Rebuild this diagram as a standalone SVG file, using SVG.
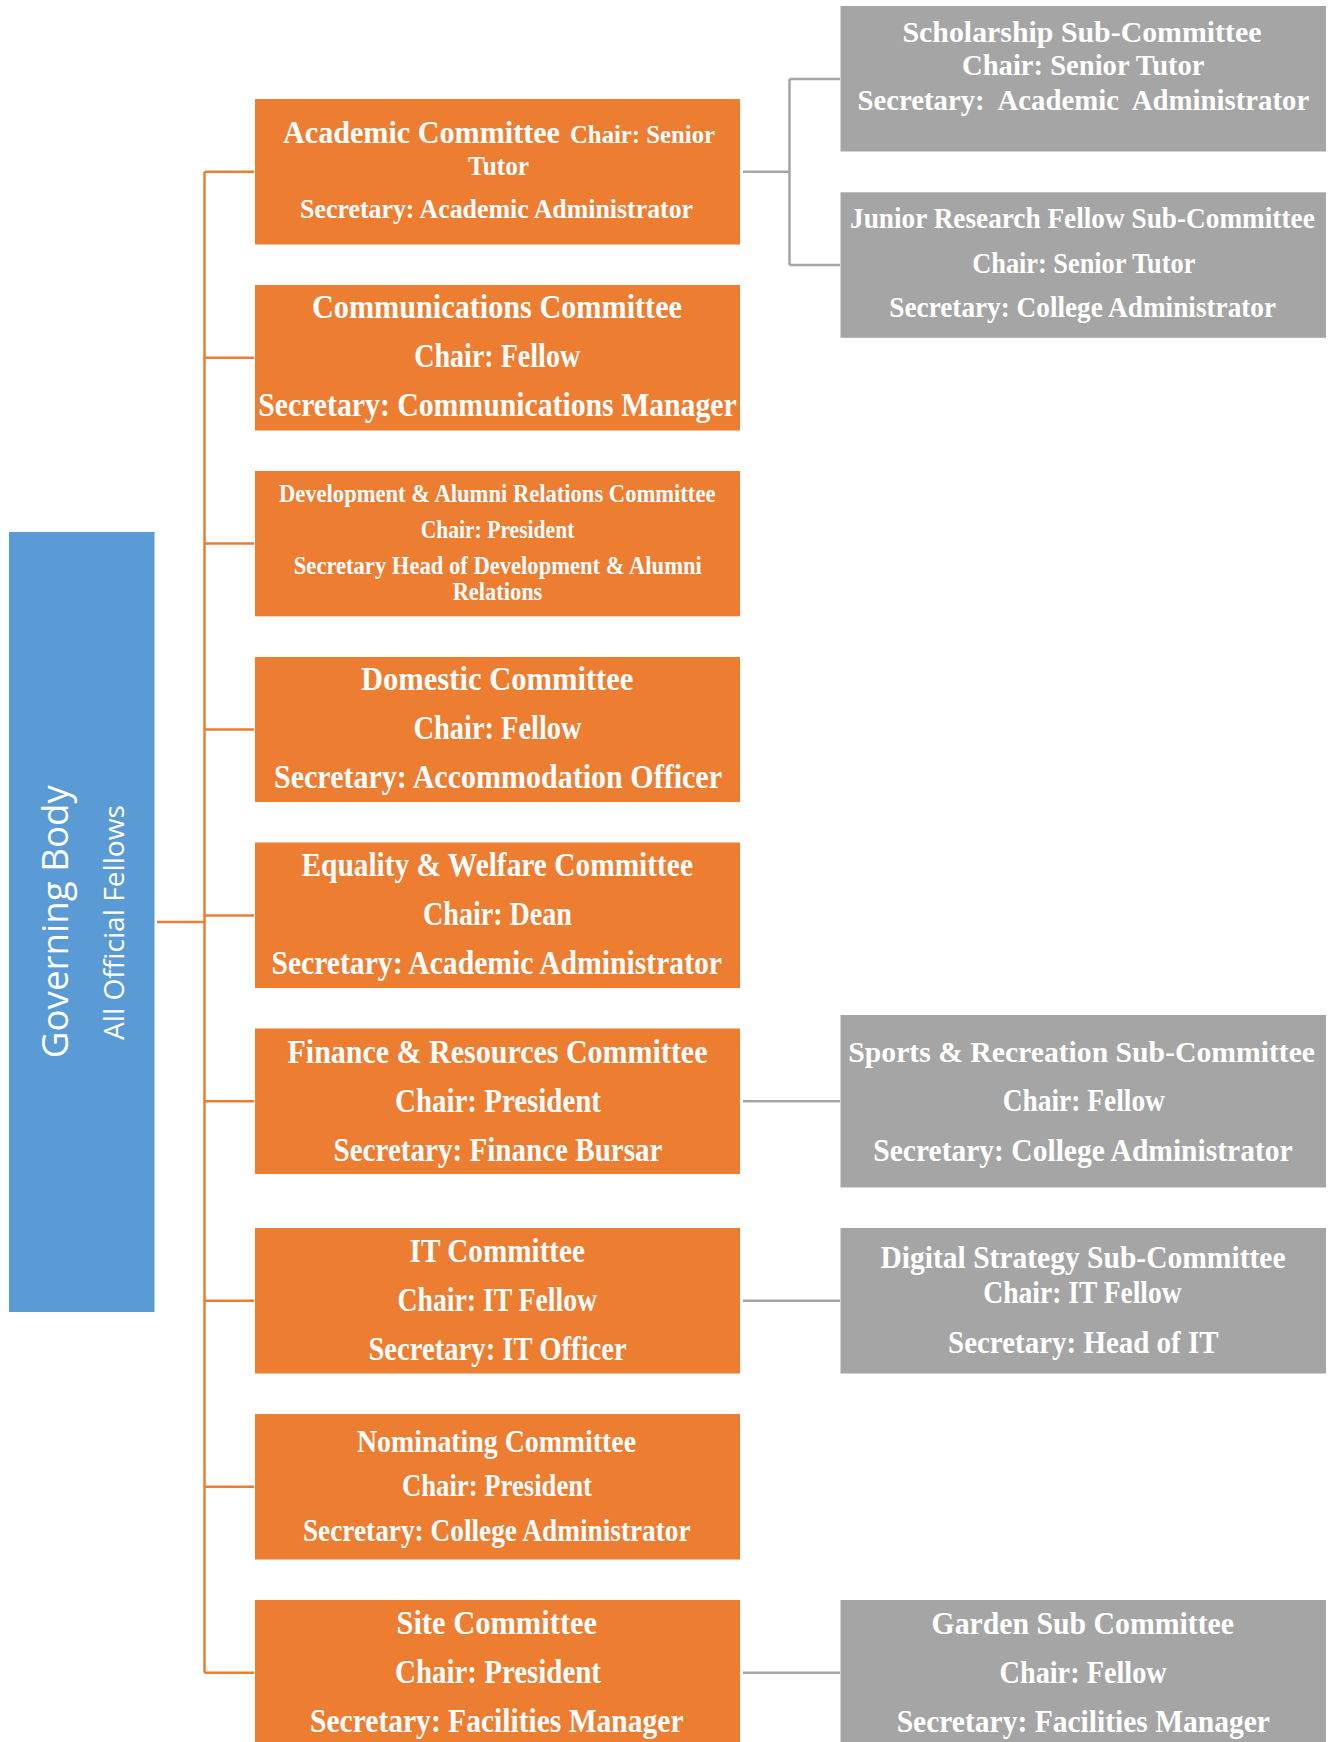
<svg xmlns="http://www.w3.org/2000/svg" width="1336" height="1742" viewBox="0 0 1336 1742">
<style>
.bg{fill:#ffffff}
.o{fill:#ED7D31}
.g{fill:#A5A5A5}
.b{fill:#5B9BD5}
.t{font-family:"Liberation Serif","Times New Roman",serif;font-weight:bold;fill:#ffffff}
.s{font-family:"Open Sans","Noto Sans",sans-serif;fill:#ffffff}
.lo{stroke:#ED7D31;stroke-width:2.5;fill:none}
.lg{stroke:#A5A5A5;stroke-width:2.5;fill:none}
</style>
<rect class="bg" x="0" y="0" width="1336" height="1742"/>
<g id="connectors">
<path class="lo" d="M157,922 H204.5 M204.5,171.75 V1672.7 M204.5,171.75 H254 M204.5,357.75 H254 M204.5,543.6 H254 M204.5,729.5 H254 M204.5,915.6 H254 M204.5,1101.2 H254 M204.5,1300.7 H254 M204.5,1486.7 H254 M204.5,1672.7 H254"/>
<path class="lg" d="M743,171.75 H789.5 M789.5,79 V265 M789.5,79 H840 M789.5,265 H840 M743,1101.2 H840 M743,1300.7 H840 M743,1672.7 H840"/>
</g>
<g id="governing-body">
<rect class="b" x="9" y="532" width="145.5" height="780"/>
<text class="s" font-size="37" text-anchor="middle" transform="translate(68.3,921.7) rotate(-90)" textLength="273" lengthAdjust="spacingAndGlyphs">Governing Body</text>
<text class="s" font-size="28" text-anchor="middle" transform="translate(124,922.5) rotate(-90)" textLength="235" lengthAdjust="spacingAndGlyphs">All Official Fellows</text>
</g>
<g id="academic">
<rect class="o" x="255" y="99" width="485" height="145.5"/>
<text class="t" font-size="30.5" x="283" y="143" textLength="277" lengthAdjust="spacingAndGlyphs">Academic Committee</text>
<text class="t" font-size="24.5" x="570" y="143" textLength="145" lengthAdjust="spacingAndGlyphs">Chair: Senior</text>
<text class="t" font-size="26.5" x="498.6" y="175.3" text-anchor="middle" textLength="61" lengthAdjust="spacingAndGlyphs">Tutor</text>
<text class="t" font-size="27.5" x="496.6" y="218" text-anchor="middle" textLength="393" lengthAdjust="spacingAndGlyphs">Secretary: Academic Administrator</text>
</g>
<g id="communications">
<rect class="o" x="255" y="285" width="485" height="145.5"/>
<text class="t" font-size="33" x="497" y="317.5" text-anchor="middle" textLength="370" lengthAdjust="spacingAndGlyphs">Communications Committee</text>
<text class="t" font-size="33" x="497.2" y="366.7" text-anchor="middle" textLength="166" lengthAdjust="spacingAndGlyphs">Chair: Fellow</text>
<text class="t" font-size="33" x="497.5" y="415.7" text-anchor="middle" textLength="478.5" lengthAdjust="spacingAndGlyphs">Secretary: Communications Manager</text>
</g>
<g id="development">
<rect class="o" x="255" y="471" width="485" height="145.3"/>
<text class="t" font-size="25" x="497.2" y="501.6" text-anchor="middle" textLength="436.5" lengthAdjust="spacingAndGlyphs">Development &amp; Alumni Relations Committee</text>
<text class="t" font-size="25" x="497.5" y="537.7" text-anchor="middle" textLength="153.7" lengthAdjust="spacingAndGlyphs">Chair: President</text>
<text class="t" font-size="25" x="497.8" y="574.2" text-anchor="middle" textLength="408" lengthAdjust="spacingAndGlyphs">Secretary Head of Development &amp; Alumni</text>
<text class="t" font-size="25" x="497.5" y="600.1" text-anchor="middle" textLength="89.7" lengthAdjust="spacingAndGlyphs">Relations</text>
</g>
<g id="domestic">
<rect class="o" x="255" y="657" width="485" height="145"/>
<text class="t" font-size="33" x="497.2" y="690.3" text-anchor="middle" textLength="272.5" lengthAdjust="spacingAndGlyphs">Domestic Committee</text>
<text class="t" font-size="33" x="497.5" y="739.4" text-anchor="middle" textLength="168" lengthAdjust="spacingAndGlyphs">Chair: Fellow</text>
<text class="t" font-size="33" x="498" y="787.8" text-anchor="middle" textLength="448" lengthAdjust="spacingAndGlyphs">Secretary: Accommodation Officer</text>
</g>
<g id="equality">
<rect class="o" x="255" y="842.5" width="485" height="145.5"/>
<text class="t" font-size="33" x="497.2" y="876.2" text-anchor="middle" textLength="391.5" lengthAdjust="spacingAndGlyphs">Equality &amp; Welfare Committee</text>
<text class="t" font-size="33" x="497.5" y="925.3" text-anchor="middle" textLength="149" lengthAdjust="spacingAndGlyphs">Chair: Dean</text>
<text class="t" font-size="33" x="496.7" y="973.7" text-anchor="middle" textLength="450.6" lengthAdjust="spacingAndGlyphs">Secretary: Academic Administrator</text>
</g>
<g id="finance">
<rect class="o" x="255" y="1028.5" width="485" height="145.5"/>
<text class="t" font-size="33" x="497.5" y="1062.5" text-anchor="middle" textLength="420" lengthAdjust="spacingAndGlyphs">Finance &amp; Resources Committee</text>
<text class="t" font-size="33" x="498" y="1112" text-anchor="middle" textLength="206" lengthAdjust="spacingAndGlyphs">Chair: President</text>
<text class="t" font-size="33" x="498" y="1161" text-anchor="middle" textLength="329" lengthAdjust="spacingAndGlyphs">Secretary: Finance Bursar</text>
</g>
<g id="it">
<rect class="o" x="255" y="1228" width="485" height="145.5"/>
<text class="t" font-size="33" x="497.3" y="1261.7" text-anchor="middle" textLength="175.4" lengthAdjust="spacingAndGlyphs">IT Committee</text>
<text class="t" font-size="33" x="497.3" y="1311" text-anchor="middle" textLength="199.7" lengthAdjust="spacingAndGlyphs">Chair: IT Fellow</text>
<text class="t" font-size="33" x="497.6" y="1359.7" text-anchor="middle" textLength="258.4" lengthAdjust="spacingAndGlyphs">Secretary: IT Officer</text>
</g>
<g id="nominating">
<rect class="o" x="255" y="1414" width="485" height="145.5"/>
<text class="t" font-size="31" x="496.5" y="1452" text-anchor="middle" textLength="279" lengthAdjust="spacingAndGlyphs">Nominating Committee</text>
<text class="t" font-size="31" x="497" y="1496" text-anchor="middle" textLength="190" lengthAdjust="spacingAndGlyphs">Chair: President</text>
<text class="t" font-size="31" x="496.8" y="1541" text-anchor="middle" textLength="387.7" lengthAdjust="spacingAndGlyphs">Secretary: College Administrator</text>
</g>
<g id="site">
<rect class="o" x="255" y="1600" width="485" height="145.5"/>
<text class="t" font-size="33" x="496.8" y="1634" text-anchor="middle" textLength="200.7" lengthAdjust="spacingAndGlyphs">Site Committee</text>
<text class="t" font-size="33" x="498" y="1683" text-anchor="middle" textLength="206" lengthAdjust="spacingAndGlyphs">Chair: President</text>
<text class="t" font-size="33" x="496.8" y="1731.6" text-anchor="middle" textLength="373.5" lengthAdjust="spacingAndGlyphs">Secretary: Facilities Manager</text>
</g>
<g id="scholarship">
<rect class="g" x="840.5" y="6" width="485.5" height="145.5"/>
<text class="t" font-size="29.5" x="1082" y="41.7" text-anchor="middle" textLength="359" lengthAdjust="spacingAndGlyphs">Scholarship Sub-Committee</text>
<text class="t" font-size="29.5" x="1083.3" y="75" text-anchor="middle" textLength="242.5" lengthAdjust="spacingAndGlyphs">Chair: Senior Tutor</text>
<text class="t" font-size="29.5" x="1083.3" y="110" text-anchor="middle" textLength="451.8" lengthAdjust="spacingAndGlyphs" xml:space="preserve">Secretary:  Academic  Administrator</text>
</g>
<g id="junior-research">
<rect class="g" x="840.5" y="192.3" width="485.5" height="145.5"/>
<text class="t" font-size="28.5" x="1082.4" y="228.3" text-anchor="middle" textLength="464.7" lengthAdjust="spacingAndGlyphs">Junior Research Fellow Sub-Committee</text>
<text class="t" font-size="28.5" x="1083.8" y="273.3" text-anchor="middle" textLength="223" lengthAdjust="spacingAndGlyphs">Chair: Senior Tutor</text>
<text class="t" font-size="28.5" x="1082.7" y="316.7" text-anchor="middle" textLength="386.7" lengthAdjust="spacingAndGlyphs">Secretary: College Administrator</text>
</g>
<g id="sports">
<rect class="g" x="840.5" y="1015" width="485.5" height="172.5"/>
<text class="t" font-size="30" x="1081.7" y="1062.3" text-anchor="middle" textLength="466.7" lengthAdjust="spacingAndGlyphs">Sports &amp; Recreation Sub-Committee</text>
<text class="t" font-size="31.5" x="1083.8" y="1110.7" text-anchor="middle" textLength="162.3" lengthAdjust="spacingAndGlyphs">Chair: Fellow</text>
<text class="t" font-size="31.5" x="1083" y="1160.5" text-anchor="middle" textLength="419.3" lengthAdjust="spacingAndGlyphs">Secretary: College Administrator</text>
</g>
<g id="digital-strategy">
<rect class="g" x="840.5" y="1228" width="485.5" height="145.5"/>
<text class="t" font-size="30.5" x="1083" y="1267.9" text-anchor="middle" textLength="405" lengthAdjust="spacingAndGlyphs">Digital Strategy Sub-Committee</text>
<text class="t" font-size="30.5" x="1082.5" y="1303" text-anchor="middle" textLength="198.3" lengthAdjust="spacingAndGlyphs">Chair: IT Fellow</text>
<text class="t" font-size="30.5" x="1083.3" y="1352.6" text-anchor="middle" textLength="270.5" lengthAdjust="spacingAndGlyphs">Secretary: Head of IT</text>
</g>
<g id="garden">
<rect class="g" x="840.5" y="1600" width="485.5" height="145.5"/>
<text class="t" font-size="32" x="1082.8" y="1634" text-anchor="middle" textLength="302.4" lengthAdjust="spacingAndGlyphs">Garden Sub Committee</text>
<text class="t" font-size="32" x="1083.1" y="1683" text-anchor="middle" textLength="167.2" lengthAdjust="spacingAndGlyphs">Chair: Fellow</text>
<text class="t" font-size="32" x="1083.3" y="1731.6" text-anchor="middle" textLength="373.3" lengthAdjust="spacingAndGlyphs">Secretary: Facilities Manager</text>
</g>
</svg>
